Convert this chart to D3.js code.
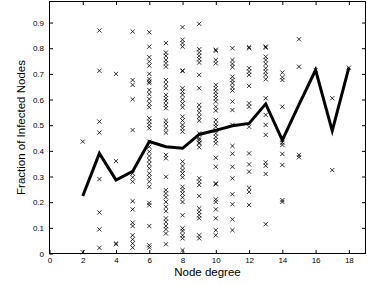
<!DOCTYPE html>
<html>
<head>
<meta charset="utf-8">
<script src="https://cdn.jsdelivr.net/npm/d3@7"></script>
<style>
body { margin: 0; background: #fff; }
text { font-family: "Liberation Sans", Arial, sans-serif; fill: #000; }
</style>
</head>
<body>
<div id="chart"></div>
<script>
// node degrees for the scatter columns
var degrees = [2, 3, 4, 5, 6, 7, 8, 9, 10, 11, 12, 13, 14, 15, 16, 17, 18];

// fraction of infected nodes per sample, one list per degree
var fractions = [
    [0.436, 0.005],
    [0.869, 0.712, 0.514, 0.471, 0.29, 0.16, 0.094, 0.022],
    [0.7, 0.36, 0.039, 0.036],
    [0.865, 0.676, 0.657, 0.601, 0.481, 0.312, 0.297, 0.28, 0.204, 0.172, 0.12, 0.107, 0.071, 0.055, 0.039, 0.023],
    [0.862, 0.806, 0.765, 0.748, 0.732, 0.7, 0.68, 0.67, 0.664, 0.637, 0.621, 0.602, 0.585, 0.57, 0.527, 0.514, 0.501, 0.488, 0.436,
     0.416, 0.397, 0.38, 0.364, 0.349, 0.332, 0.312, 0.297, 0.28, 0.26, 0.197, 0.188, 0.107, 0.032, 0.023],
    [0.82, 0.783, 0.77, 0.754, 0.741, 0.728, 0.676, 0.66, 0.644, 0.618, 0.605, 0.594, 0.579, 0.566, 0.518, 0.505, 0.488, 0.471,
     0.384, 0.371, 0.299, 0.247, 0.234, 0.219, 0.201, 0.182, 0.165, 0.137, 0.123, 0.107, 0.094, 0.078, 0.036],
    [0.882, 0.833, 0.82, 0.806, 0.713, 0.711, 0.644, 0.631, 0.618, 0.601, 0.585, 0.57, 0.533, 0.518, 0.501, 0.488, 0.475,
     0.358, 0.341, 0.325, 0.312, 0.297, 0.26, 0.247, 0.234, 0.219, 0.201, 0.149, 0.098, 0.088, 0.071, 0.059, 0.013],
    [0.895, 0.796, 0.783, 0.77, 0.757, 0.744, 0.696, 0.644, 0.579, 0.563, 0.549, 0.533, 0.518, 0.468, 0.449, 0.432, 0.414,
     0.442, 0.429, 0.293, 0.28, 0.267, 0.224, 0.176, 0.162, 0.149, 0.137, 0.071, 0.059],
    [0.794, 0.79, 0.754, 0.741, 0.657, 0.644, 0.631, 0.618, 0.605, 0.592, 0.572, 0.557, 0.52, 0.505, 0.494, 0.48, 0.468, 0.455,
     0.442, 0.429, 0.373, 0.338, 0.273, 0.27, 0.211, 0.201, 0.172, 0.137, 0.091, 0.071],
    [0.8, 0.754, 0.739, 0.726, 0.689, 0.676, 0.664, 0.648, 0.635, 0.592, 0.559, 0.501, 0.419, 0.389, 0.338, 0.293, 0.231, 0.192,
     0.133, 0.091],
    [0.804, 0.8, 0.722, 0.709, 0.696, 0.653, 0.585, 0.572, 0.494, 0.39, 0.347, 0.319, 0.256, 0.24, 0.189],
    [0.806, 0.802, 0.767, 0.754, 0.739, 0.722, 0.709, 0.696, 0.679, 0.605, 0.54, 0.501, 0.462, 0.355, 0.342, 0.31, 0.114],
    [0.705, 0.687, 0.676, 0.572, 0.442, 0.432, 0.423, 0.388, 0.345, 0.208, 0.201],
    [0.835, 0.728, 0.384, 0.375],
    [0.715],
    [0.605, 0.325],
    [0.724]
];

// mean fraction per degree (thick line)
var meanFrac = [0.224, 0.39, 0.286, 0.32, 0.436, 0.416, 0.41, 0.464, 0.48, 0.498, 0.507, 0.583, 0.442, 0.58, 0.715, 0.478, 0.724];

var xTicks = [0, 2, 4, 6, 8, 10, 12, 14, 16, 18];
var yTicks = [0, 0.1, 0.2, 0.3, 0.4, 0.5, 0.6, 0.7, 0.8, 0.9];

var width = 367, height = 285;
var plotLeft = 49.5, plotRight = 365.5, plotTop = 1.5, plotBottom = 253.5;

var svg = d3.select("#chart").append("svg")
    .attr("width", width)
    .attr("height", height);

var x = d3.scaleLinear().domain([0, 19]).range([plotLeft, plotRight]);
var y = d3.scaleLinear().domain([0, 0.982]).range([plotBottom, plotTop]);

// flatten the points
var points = [];
for (var i = 0; i < degrees.length; i++) {
    for (var j = 0; j < fractions[i].length; j++) {
        points.push({deg: degrees[i], frac: fractions[i][j]});
    }
}

var tickLen = 3.5;

// axes (inward ticks like matlab)
svg.append("g")
    .attr("transform", "translate(0," + plotBottom + ")")
    .call(d3.axisBottom(x).tickValues(xTicks).tickSizeInner(-tickLen).tickSizeOuter(0).tickPadding(3.5)
        .tickFormat(d3.format("d")))
    .call(function(g) { g.select(".domain").remove(); })
    .selectAll("text").attr("font-size", "8px");

svg.append("g")
    .attr("transform", "translate(0," + plotTop + ")")
    .call(d3.axisTop(x).tickValues(xTicks.slice(1)).tickSizeInner(-tickLen).tickSizeOuter(0).tickFormat(""))
    .call(function(g) { g.select(".domain").remove(); });

svg.append("g")
    .attr("transform", "translate(" + plotLeft + ",0)")
    .call(d3.axisLeft(y).tickValues(yTicks).tickSizeInner(-tickLen).tickSizeOuter(0).tickPadding(5.5)
        .tickFormat(function(d) { return d == 0 ? "0" : d3.format(".1f")(d); }))
    .call(function(g) { g.select(".domain").remove(); })
    .selectAll("text").attr("font-size", "8px");

svg.append("g")
    .attr("transform", "translate(" + plotRight + ",0)")
    .call(d3.axisRight(y).tickValues(yTicks.slice(1)).tickSizeInner(-tickLen).tickSizeOuter(0).tickFormat(""))
    .call(function(g) { g.select(".domain").remove(); });

svg.selectAll(".tick line").attr("stroke", "#000");

// box
svg.append("rect")
    .attr("x", plotLeft).attr("y", plotTop)
    .attr("width", plotRight - plotLeft).attr("height", plotBottom - plotTop)
    .attr("fill", "none")
    .attr("stroke", "#000")
    .attr("stroke-width", 1);

// x markers
var s = 2.1;
svg.append("g")
    .selectAll("path")
    .data(points)
    .enter().append("path")
    .attr("d", function(d) {
        var cx = x(d.deg), cy = y(d.frac);
        return "M" + (cx - s) + "," + (cy - s) + "L" + (cx + s) + "," + (cy + s) +
            "M" + (cx - s) + "," + (cy + s) + "L" + (cx + s) + "," + (cy - s);
    })
    .attr("stroke", "#000")
    .attr("stroke-width", 0.8)
    .attr("fill", "none");

// mean line
var line = d3.line()
    .x(function(d, i) { return x(degrees[i]); })
    .y(function(d) { return y(d); });

svg.append("path")
    .datum(meanFrac)
    .attr("d", line)
    .attr("fill", "none")
    .attr("stroke", "#000")
    .attr("stroke-width", 3)
    .attr("stroke-linejoin", "miter");

// labels
svg.append("text")
    .attr("x", (plotLeft + plotRight) / 2)
    .attr("y", 276)
    .attr("text-anchor", "middle")
    .attr("font-size", "11.5px")
    .text("Node degree");

svg.append("text")
    .attr("transform", "translate(25," + ((plotTop + plotBottom) / 2) + ") rotate(-90)")
    .attr("text-anchor", "middle")
    .attr("font-size", "11.5px")
    .text("Fraction of Infected Nodes");
</script>
</body>
</html>
